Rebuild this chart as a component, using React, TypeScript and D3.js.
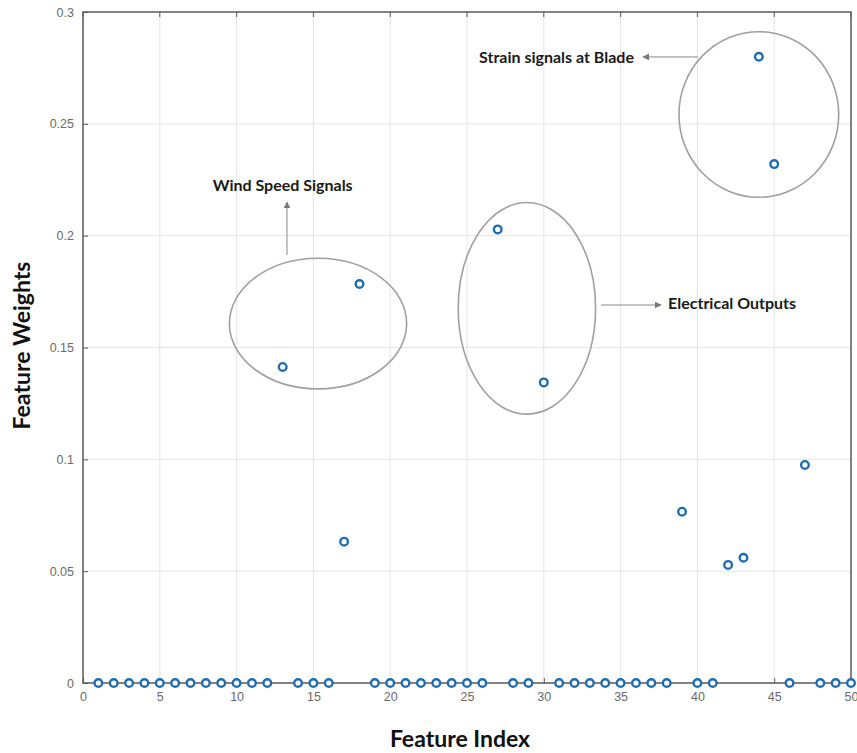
import React, { useEffect, useRef } from "react";
import * as d3 from "d3";

// feature index 1..50 and the weight
const featureIndex = [
  1, 2, 3, 4, 5, 6, 7, 8, 9, 10, 11, 12, 13, 14, 15, 16, 17, 18, 19, 20, 21, 22, 23, 24, 25,
  26, 27, 28, 29, 30, 31, 32, 33, 34, 35, 36, 37, 38, 39, 40, 41, 42, 43, 44, 45, 46, 47, 48, 49, 50,
];
const featureWeights = [
  0, 0, 0, 0, 0, 0, 0, 0, 0, 0, 0, 0, 0.1413, 0, 0, 0, 0.0632, 0.1784, 0, 0, 0, 0, 0, 0, 0,
  0, 0.2028, 0, 0, 0.1344, 0, 0, 0, 0, 0, 0, 0, 0, 0.0766, 0, 0, 0.0528, 0.056, 0.28, 0.232, 0, 0.0975, 0, 0, 0,
];

const xTicks = [0, 5, 10, 15, 20, 25, 30, 35, 40, 45, 50];
const yTicks = [0, 0.05, 0.1, 0.15, 0.2, 0.25, 0.3];
const yTickLabels = ["0", "0.05", "0.1", "0.15", "0.2", "0.25", "0.3"];

// callouts, in data units
const groupNames = ["Wind Speed Signals", "Electrical Outputs", "Strain signals at Blade"];
const ellipseCenters = [
  [15.3, 0.1607],
  [28.9, 0.1675],
  [44.0, 0.2542],
];
const ellipseRadii = [
  [5.77, 0.0292],
  [4.47, 0.0473],
  [5.2, 0.037],
];
const arrowFrom = [
  [13.28, 0.1914],
  [33.72, 0.169],
  [40.04, 0.2799],
];
const arrowTo = [
  [13.28, 0.215],
  [37.63, 0.169],
  [36.46, 0.2799],
];
const labelAt = [
  [13.0, 0.2226, "middle"],
  [38.09, 0.1699, "start"],
  [35.87, 0.2799, "end"],
];

const W = 857;
const H = 753;

export default function App() {
  const ref = useRef<SVGSVGElement>(null);

  useEffect(() => {
    const svg = d3.select(ref.current);
    svg.selectAll("*").remove();

    const margin = { top: 12, right: 6, bottom: 70, left: 83 };
    const x = d3.scaleLinear().domain([0, 50]).range([margin.left, W - margin.right]);
    const y = d3.scaleLinear().domain([0, 0.3]).range([H - margin.bottom, margin.top]);

    const axisColor = "#5a5a5a";
    const tickFont = "'Liberation Sans', Arial, sans-serif";
    const boldFont = "Lato, 'Open Sans', sans-serif";

    svg
      .append("defs")
      .append("marker")
      .attr("id", "arrowHead")
      .attr("viewBox", "0 0 10 10")
      .attr("refX", 9)
      .attr("refY", 5)
      .attr("markerWidth", 7)
      .attr("markerHeight", 7)
      .attr("markerUnits", "userSpaceOnUse")
      .attr("orient", "auto")
      .append("path")
      .attr("d", "M0,0 L10,5 L0,10 Z")
      .attr("fill", "#7a7a7a");

    // grid
    const grid = svg.append("g").attr("stroke", "#e4e4e4").attr("stroke-width", 1);
    grid
      .selectAll("line.vx")
      .data(xTicks.slice(1, -1))
      .join("line")
      .attr("x1", (d) => x(d))
      .attr("x2", (d) => x(d))
      .attr("y1", y(0))
      .attr("y2", y(0.3));
    grid
      .selectAll("line.hy")
      .data(yTicks.slice(1, -1))
      .join("line")
      .attr("x1", x(0))
      .attr("x2", x(50))
      .attr("y1", (d) => y(d))
      .attr("y2", (d) => y(d));

    // axes (MATLAB style, ticks inside)
    const xAxis = d3.axisBottom(x).tickValues(xTicks).tickSize(-5).tickPadding(9).tickSizeOuter(0);
    const yAxis = d3
      .axisLeft(y)
      .tickValues(yTicks)
      .tickFormat((d, i) => yTickLabels[i])
      .tickSize(-5)
      .tickPadding(9)
      .tickSizeOuter(0);

    const gx = svg.append("g").attr("transform", `translate(0,${y(0)})`).call(xAxis);
    const gy = svg.append("g").attr("transform", `translate(${x(0)},0)`).call(yAxis);
    for (const g of [gx, gy]) {
      g.select(".domain").remove();
      g.selectAll("line").attr("stroke", axisColor);
      g.selectAll("text")
        .attr("fill", "#6a6a6a")
        .style("font-family", tickFont)
        .style("font-size", "12.5px");
    }
    // top ticks
    svg
      .append("g")
      .selectAll("line")
      .data(xTicks)
      .join("line")
      .attr("x1", (d) => x(d))
      .attr("x2", (d) => x(d))
      .attr("y1", y(0.3))
      .attr("y2", y(0.3) + 5)
      .attr("stroke", axisColor);

    svg
      .append("rect")
      .attr("x", x(0))
      .attr("y", y(0.3))
      .attr("width", x(50) - x(0))
      .attr("height", y(0) - y(0.3))
      .attr("fill", "none")
      .attr("stroke", axisColor)
      .attr("stroke-width", 1.5);

    // callouts
    const notes = svg.append("g");
    groupNames.forEach((name, i) => {
      const [cx, cy] = ellipseCenters[i];
      const [rx, ry] = ellipseRadii[i];
      notes
        .append("ellipse")
        .attr("cx", x(cx))
        .attr("cy", y(cy))
        .attr("rx", x(rx) - x(0))
        .attr("ry", y(0) - y(ry))
        .attr("fill", "none")
        .attr("stroke", "#a0a0a0")
        .attr("stroke-width", 1.6);
      notes
        .append("line")
        .attr("x1", x(arrowFrom[i][0]))
        .attr("y1", y(arrowFrom[i][1]))
        .attr("x2", x(arrowTo[i][0]))
        .attr("y2", y(arrowTo[i][1]))
        .attr("stroke", "#8a8a8a")
        .attr("stroke-width", 1)
        .attr("marker-end", "url(#arrowHead)");
      const [lx, ly, anchor] = labelAt[i] as [number, number, string];
      notes
        .append("text")
        .attr("x", x(lx))
        .attr("y", y(ly))
        .attr("dy", "0.35em")
        .attr("text-anchor", anchor)
        .attr("fill", "#1a1a1a")
        .style("font-family", boldFont)
        .style("font-weight", 700)
        .style("font-size", "16px")
        .text(name);
    });

    // markers
    svg
      .append("g")
      .selectAll("circle")
      .data(featureIndex)
      .join("circle")
      .attr("cx", (d) => x(d))
      .attr("cy", (d, i) => y(featureWeights[i]))
      .attr("r", 3.8)
      .attr("fill", "white")
      .attr("stroke", "#1f6db0")
      .attr("stroke-width", 2.4);

    // axis titles
    svg
      .append("text")
      .attr("x", (x(0) + x(50)) / 2 - 7)
      .attr("y", 739)
      .attr("dy", "0.35em")
      .attr("text-anchor", "middle")
      .attr("fill", "#111")
      .style("font-family", boldFont)
      .style("font-weight", 700)
      .style("font-size", "23px")
      .text("Feature Index");

    svg
      .append("text")
      .attr("transform", `translate(22,${y(0.15) - 2}) rotate(-90)`)
      .attr("dy", "0.35em")
      .attr("text-anchor", "middle")
      .attr("fill", "#111")
      .style("font-family", boldFont)
      .style("font-weight", 700)
      .style("font-size", "23px")
      .text("Feature Weights");
  }, []);

  return (
    <div>
      <style>{`body{margin:0;background:#fff}`}</style>
      <svg ref={ref} width={W} height={H} style={{ display: "block" }} />
    </div>
  );
}
